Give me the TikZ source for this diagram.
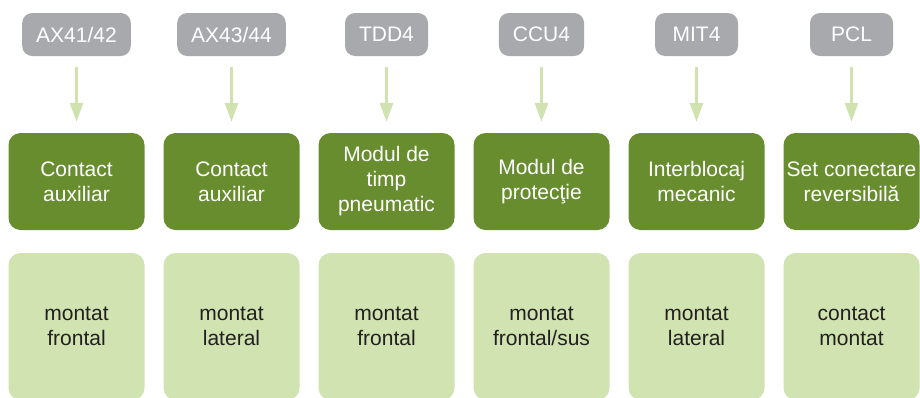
\documentclass[tikz,border=0pt]{standalone}
\usepackage{fontspec}
\setmainfont{Liberation Sans}
\usetikzlibrary{arrows.meta}
\definecolor{tagGray}{HTML}{A7A9AC}
\definecolor{darkGreen}{HTML}{688D2F}
\definecolor{lightGreen}{HTML}{D0E3B1}
\definecolor{arrowGreen}{HTML}{CFE2B0}
\definecolor{textDark}{HTML}{231F20}
\begin{document}
\begin{tikzpicture}[x=1pt,y=1pt,
  tagbox/.style={fill=tagGray, rounded corners=10pt, minimum height=43pt, minimum width=83pt,
    inner xsep=14pt, inner ysep=0pt, text=white, font=\fontsize{21}{25}\selectfont},
  namebox/.style={fill=darkGreen, rounded corners=12pt, minimum height=97pt, minimum width=136pt,
    inner sep=0pt, text=white, align=center, font=\fontsize{21}{25}\selectfont},
  mountbox/.style={fill=lightGreen, rounded corners=12pt, minimum height=147pt, minimum width=136pt,
    inner sep=0pt, text=textDark, align=center, font=\fontsize{21}{25}\selectfont},
  flow/.style={draw=arrowGreen, line width=3pt, -{Triangle[width=13pt,length=19pt]},
    shorten <=11pt, shorten >=11pt}
]
\useasboundingbox (0,0) rectangle (920,-397);
\foreach \i/\tag/\name/\mount in {
  1/AX41\slash 42/Contact\\auxiliar/montat\\frontal,
  2/AX43\slash 44/Contact\\auxiliar/montat\\lateral,
  3/TDD4/Modul de\\timp\\pneumatic/montat\\frontal,
  4/CCU4/Modul de\\protecţie/montat\\frontal\slash sus,
  5/MIT4/Interblocaj\\mecanic/montat\\lateral,
  6/PCL/Set conectare\\reversibilă/contact\\montat}{
  \pgfmathsetmacro{\cx}{76.5+155*(\i-1)}
  \node[tagbox] (t\i) at (\cx,-34.5) {\tag};
  \node[namebox] (n\i) at (\cx,-181.5) {\name};
  \node[mountbox] (m\i) at (\cx,-326.5) {\mount};
  \draw[flow] (t\i) -- (n\i);
}
\end{tikzpicture}
\end{document}
